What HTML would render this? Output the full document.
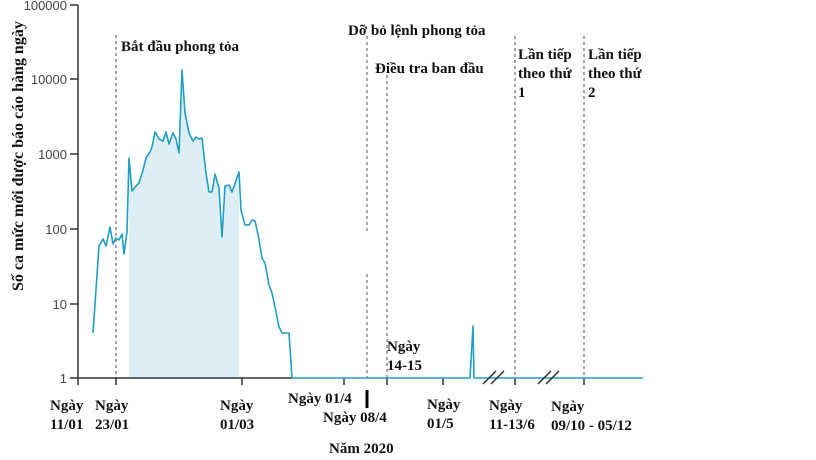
<!DOCTYPE html>
<html><head><meta charset="utf-8"><style>
html,body{margin:0;padding:0;background:#fff;}
svg{display:block;}
.b{font-family:"Liberation Serif",serif;font-weight:bold;font-size:15px;fill:#111;}
.y{font-family:"Liberation Sans",sans-serif;font-size:13px;fill:#444;}
</style></head><body>
<svg width="816" height="460" viewBox="0 0 816 460" xmlns="http://www.w3.org/2000/svg">
<defs><clipPath id="c"><rect x="129" y="0" width="110" height="378"/></clipPath></defs>
<polygon clip-path="url(#c)" fill="#ddeef6" points="93,378 93,333 99,246 103,239 106,246 110,227 113,244 116,238 119,240 122,234 124,254 127,232 129,158 132,191 136,186 139,183 143,170 146,158 150,152 152,147 155,132 159,139 163,141 166,132 169,144 173,133 176,139 179,153 182,70 185,113 189,133 193,141 196,137 199,139 202,138 206,173 209,192 212,192 215,174 219,188 222,237 225,186 229,185 232,192 239,172 241,210 245,225 249,225 252,220 255,221 257,230 259,240 262,258 265,263 269,285 272,293 275,307 279,327 282,333 289,333 292,378"/>
<g stroke="#777" stroke-width="1.3" stroke-dasharray="3,3" fill="none">
<line x1="116" y1="35" x2="116" y2="378"/>
<line x1="367" y1="36" x2="367" y2="232"/>
<line x1="367" y1="274" x2="367" y2="378"/>
<line x1="387" y1="75" x2="387" y2="378"/>
<line x1="515" y1="36" x2="515" y2="378"/>
<line x1="584" y1="36" x2="584" y2="378"/>
</g>
<g stroke="#333" stroke-width="1.5">
<line x1="78" y1="5" x2="78" y2="385"/>
<line x1="70" y1="5" x2="78" y2="5"/>
<line x1="70" y1="79" x2="78" y2="79"/>
<line x1="70" y1="154" x2="78" y2="154"/>
<line x1="70" y1="229" x2="78" y2="229"/>
<line x1="70" y1="304" x2="78" y2="304"/>
<line x1="70" y1="378" x2="78" y2="378"/>
<line x1="78" y1="378" x2="292" y2="378"/>
<line x1="116" y1="378" x2="116" y2="385"/>
<line x1="242" y1="378" x2="242" y2="385"/>
<line x1="344" y1="378" x2="344" y2="385"/>
<line x1="387" y1="378" x2="387" y2="385"/>
<line x1="443" y1="378" x2="443" y2="385"/>
<line x1="515" y1="378" x2="515" y2="385"/>
<line x1="584" y1="378" x2="584" y2="385"/>
</g>
<line x1="367" y1="390" x2="367" y2="408" stroke="#000" stroke-width="3"/>
<polyline fill="none" stroke="#1f9fc2" stroke-width="1.6" stroke-linejoin="round" points="93,333 99,246 103,239 106,246 110,227 113,244 116,238 119,240 122,234 124,254 127,232 129,158 132,191 136,186 139,183 143,170 146,158 150,152 152,147 155,132 159,139 163,141 166,132 169,144 173,133 176,139 179,153 182,70 185,113 189,133 193,141 196,137 199,139 202,138 206,173 209,192 212,192 215,174 219,188 222,237 225,186 229,185 232,192 239,172 241,210 245,225 249,225 252,220 255,221 257,230 259,240 262,258 265,263 269,285 272,293 275,307 279,327 282,333 289,333 292,378 470,378 473,326 474,378 643,378"/>
<g stroke="#333" stroke-width="1.5">
<line x1="483" y1="384" x2="496" y2="371"/><line x1="491" y1="384" x2="504" y2="371"/>
<line x1="538" y1="384" x2="551" y2="371"/><line x1="546" y1="384" x2="559" y2="371"/>
</g>
<g class="y" text-anchor="end">
<text x="67" y="10">100000</text><text x="67" y="84">10000</text><text x="67" y="159">1000</text>
<text x="67" y="234">100</text><text x="67" y="309">10</text><text x="67" y="383">1</text>
</g>
<text class="b" style="font-size:16px" transform="translate(23,291) rotate(-90)">Số ca mức mới được báo cáo hàng ngày</text>
<g class="b">
<text x="121" y="51">Bắt đầu phong tỏa</text>
<text x="348" y="35">Dỡ bỏ lệnh phong tỏa</text>
<text x="375" y="73">Điều tra ban đầu</text>
<text x="518" y="59">Lần tiếp</text><text x="518" y="78">theo thứ</text><text x="518" y="97">1</text>
<text x="588" y="59">Lần tiếp</text><text x="588" y="78">theo thứ</text><text x="588" y="97">2</text>
<text x="387" y="351">Ngày</text><text x="387" y="370">14-15</text>
<text x="50" y="410">Ngày</text><text x="50" y="429">11/01</text>
<text x="95" y="410">Ngày</text><text x="95" y="429">23/01</text>
<text x="220" y="410">Ngày</text><text x="220" y="429">01/03</text>
<text x="288" y="403">Ngày 01/4</text>
<text x="323" y="422">Ngày 08/4</text>
<text x="427" y="409">Ngày</text><text x="427" y="428">01/5</text>
<text x="489" y="410">Ngày</text><text x="489" y="429">11-13/6</text>
<text x="551" y="411">Ngày</text><text x="551" y="430">09/10 - 05/12</text>
<text x="329" y="453">Năm 2020</text>
</g>
</svg>
</body></html>
